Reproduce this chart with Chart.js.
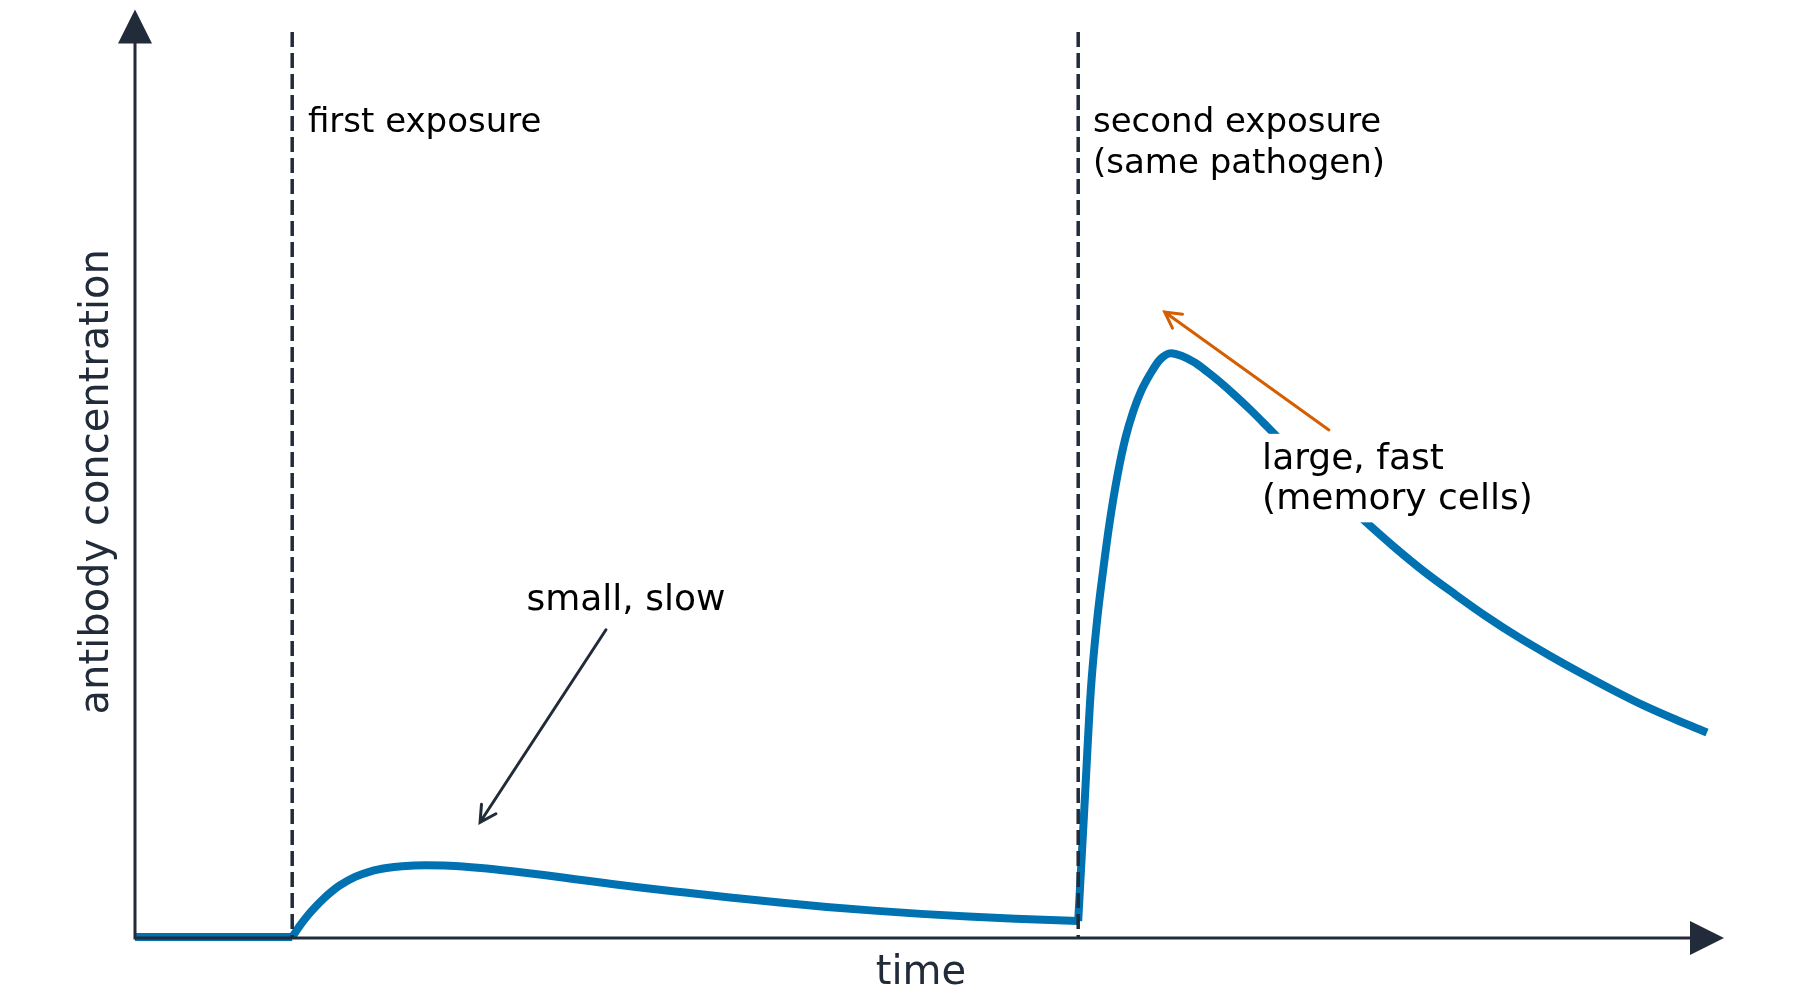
<!DOCTYPE html>
<html>
<head>
<meta charset="utf-8">
<title>antibody response</title>
<script src="https://cdn.jsdelivr.net/npm/chart.js@4.4.0/dist/chart.umd.min.js"></script>
<style>
  body { margin: 0; background: #fff; }
  #wrap { width: 1800px; height: 1007px; }
</style>
</head>
<body>
<div id="wrap"><canvas id="myChart" width="1800" height="1007"></canvas></div>
<script>
// values (time units 0..100, concentration in arbitrary units)
const exposureTimes = [10, 60];
const exposureTop = 97.8;

const baselineTime = [0, 10];
const baselineLevel = [0, 0];

const primaryTime = [10, 10.5, 11, 11.5, 12, 12.5, 13, 14, 15, 16, 17, 18.5, 20, 22, 24, 26, 28, 30, 32, 35, 38, 41, 44, 47, 50, 53, 56, 60];
const primaryLevel = [0, 1.25, 2.35, 3.3, 4.15, 4.9, 5.55, 6.5, 7.1, 7.45, 7.65, 7.75, 7.7, 7.45, 7.1, 6.7, 6.25, 5.8, 5.37, 4.8, 4.25, 3.72, 3.25, 2.85, 2.5, 2.22, 1.98, 1.72];

const secondaryTime = [60, 60.4, 60.8, 61.2, 61.6, 62.0, 62.5, 63.0, 63.5, 64.0, 64.6, 65.2, 65.9, 66.6, 67.4, 68.2, 69.0, 70.0, 71.0, 72.0, 73.5, 75.0, 76.5, 78.2, 80.0, 82.0, 84.0, 86.0, 88.0, 90.0, 92.0, 94.0, 96.0, 98.0, 100];
const secondaryLevel = [1.72, 14.2, 26.6, 34.2, 39.8, 44.8, 49.9, 53.9, 56.8, 59.0, 60.9, 62.4, 63.1, 62.8, 62.1, 61.1, 60.0, 58.5, 56.9, 55.2, 52.6, 50.1, 47.6, 45.0, 42.3, 39.5, 37.0, 34.6, 32.4, 30.4, 28.5, 26.7, 25.0, 23.5, 22.1];

const xTitle = 'time';
const yTitle = 'antibody concentration';

// annotation texts and anchors (data units)
const notes = [
    {text: ['first exposure'], x: 11.0, y: 88.3, size: 34},
    {text: ['second exposure', '(same pathogen)'], x: 60.94, y: 88.3, size: 34},
    {text: ['small, slow'], x: 24.9, y: 36.7, size: 36},
    {text: ['large, fast', '(memory cells)'], x: 71.7, y: 52.0, size: 36, box: true}
];
const arrows = [
    {from: [29.96, 33.2], to: [21.95, 12.4], color: '#222b3a'},
    {from: [75.95, 54.8], to: [65.5, 67.55], color: '#d55e00'}
];

const navy = '#222b3a';
const blue = '#0072b2';

function toPoints(xs, ys) {
    return xs.map(function (x, i) { return {x: x, y: ys[i]}; });
}

const datasets = [];
exposureTimes.forEach(function (t) {
    datasets.push({
        data: toPoints([t, t], [exposureTop, 0]),
        borderColor: navy,
        borderWidth: 3.5,
        borderDash: [15, 6],
        tension: 0,
        clip: false
    });
});
[[baselineTime, baselineLevel], [primaryTime, primaryLevel], [secondaryTime, secondaryLevel]].forEach(function (s) {
    datasets.push({
        data: toPoints(s[0], s[1]),
        borderColor: blue,
        borderWidth: 8,
        cubicInterpolationMode: 'monotone',
        borderJoinStyle: 'round',
        borderCapStyle: 'butt',
        clip: false
    });
});

function drawArrow(ctx, x1, y1, x2, y2, color) {
    const a = Math.atan2(y2 - y1, x2 - x1);
    const len = 18, spread = 0.5;
    ctx.strokeStyle = color;
    ctx.lineWidth = 3;
    ctx.lineCap = 'round';
    ctx.beginPath();
    ctx.moveTo(x1, y1);
    ctx.lineTo(x2, y2);
    ctx.moveTo(x2 - len * Math.cos(a - spread), y2 - len * Math.sin(a - spread));
    ctx.lineTo(x2, y2);
    ctx.lineTo(x2 - len * Math.cos(a + spread), y2 - len * Math.sin(a + spread));
    ctx.stroke();
}

const decor = {
    id: 'decor',
    afterDatasetsDraw: function (chart) {
        const ctx = chart.ctx;
        const area = chart.chartArea;
        const px = function (v) { return chart.scales.x.getPixelForValue(v); };
        const py = function (v) { return chart.scales.y.getPixelForValue(v); };
        const dy = 3.5; // nudge so text sits like the reference
        ctx.save();

        // axes with arrow heads
        ctx.strokeStyle = navy;
        ctx.fillStyle = navy;
        ctx.lineWidth = 3;
        ctx.beginPath();
        ctx.moveTo(area.left, area.top);
        ctx.lineTo(area.left, area.bottom + 1);
        ctx.lineTo(area.right, area.bottom + 1);
        ctx.stroke();
        const h = 17;
        ctx.beginPath();
        ctx.moveTo(area.left, area.top - h);
        ctx.lineTo(area.left - h, area.top + h);
        ctx.lineTo(area.left + h, area.top + h);
        ctx.closePath();
        ctx.fill();
        ctx.beginPath();
        ctx.moveTo(area.right + h, area.bottom + 1);
        ctx.lineTo(area.right - h, area.bottom + 1 - h);
        ctx.lineTo(area.right - h, area.bottom + 1 + h);
        ctx.closePath();
        ctx.fill();

        // axis titles
        ctx.font = '40px "DejaVu Sans"';
        ctx.textAlign = 'center';
        ctx.textBaseline = 'middle';
        ctx.fillText(xTitle, (area.left + area.right) / 2, area.bottom + 33 + dy);
        ctx.save();
        ctx.translate(area.left - 37, (area.top + area.bottom) / 2);
        ctx.rotate(-Math.PI / 2);
        ctx.fillText(yTitle, 0, 0);
        ctx.restore();

        // annotation texts
        ctx.textAlign = 'left';
        notes.forEach(function (n) {
            ctx.font = n.size + 'px "DejaVu Sans"';
            const x = px(n.x), y = py(n.y), lh = 40.5;
            if (n.box) {
                let w = 0;
                n.text.forEach(function (s) { w = Math.max(w, ctx.measureText(s).width); });
                ctx.fillStyle = '#ffffff';
                ctx.fillRect(x - 7, y - 22, w + 14, lh * (n.text.length - 1) + 48);
            }
            ctx.fillStyle = '#000000';
            n.text.forEach(function (s, i) { ctx.fillText(s, x, y + i * lh + dy); });
        });

        // annotation arrows
        arrows.forEach(function (a) {
            drawArrow(ctx, px(a.from[0]), py(a.from[1]), px(a.to[0]), py(a.to[1]), a.color);
        });
        ctx.restore();
    }
};

new Chart(document.getElementById('myChart'), {
    type: 'line',
    data: {datasets: datasets},
    options: {
        responsive: false,
        devicePixelRatio: 1,
        animation: false,
        layout: {padding: {left: 135, right: 93, top: 26.5, bottom: 70}},
        elements: {point: {radius: 0, hoverRadius: 0}},
        plugins: {legend: {display: false}, tooltip: {enabled: false}},
        scales: {
            x: {type: 'linear', min: 0, max: 100, display: false},
            y: {min: 0, max: 98.4, display: false}
        }
    },
    plugins: [decor]
});
</script>
</body>
</html>
